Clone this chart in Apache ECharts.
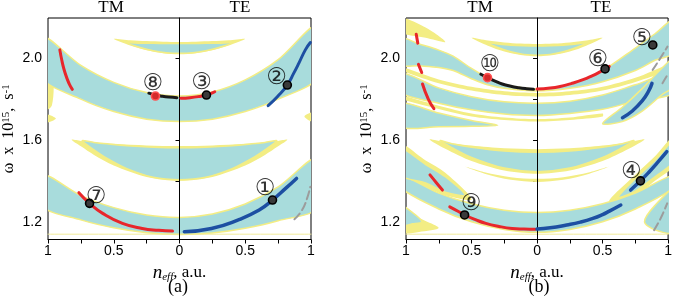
<!DOCTYPE html>
<html><head><meta charset="utf-8">
<script src="https://cdn.jsdelivr.net/npm/echarts@6/dist/echarts.min.js"></script>
<style>html,body{margin:0;padding:0;background:#fff}#c{width:675px;height:300px}</style>
</head><body><div id="c"></div>
<script>
// ---------- axis values ----------
const xTicks = [-1, -0.75, -0.5, -0.25, 0, 0.25, 0.5, 0.75, 1];
const xLabels = [-1, -0.5, 0, 0.5, 1];
const yTicks = [1.2, 1.4, 1.6, 1.8, 2.0];
const yLabels = [1.2, 1.6, 2.0];
const yMin = 1.113, yMax = 2.197;

// ---------- bands: rows of [n_eff, omega_low, omega_high] ----------
// panel (a)
const a1 = [[-1.05,1.906,2.109],[-0.75,1.80,1.965],[-0.5,1.739,1.882],[-0.25,1.702,1.832],[0,1.69,1.815],[0.25,1.702,1.835],[0.5,1.739,1.894],[0.75,1.80,1.993],[1.05,1.906,2.163]];
const a2y = [[-0.5,2.095,2.095],[-0.375,2.062,2.088],[-0.25,2.039,2.084],[-0.125,2.025,2.081],[0,2.02,2.08],[0.125,2.025,2.081],[0.25,2.039,2.084],[0.375,2.062,2.088],[0.5,2.095,2.095]];
const a2 = [[-0.4,2.075,2.075],[-0.3,2.053,2.074],[-0.2,2.037,2.073],[-0.1,2.027,2.072],[0,2.024,2.072],[0.1,2.027,2.072],[0.2,2.037,2.073],[0.3,2.053,2.074],[0.4,2.075,2.075]];
const a3y = [[-0.82,1.601,1.601],[-0.75,1.569,1.595],[-0.65,1.527,1.589],[-0.5,1.475,1.581],[-0.25,1.419,1.573],[0,1.40,1.57],[0.25,1.419,1.573],[0.5,1.475,1.581],[0.65,1.527,1.589],[0.75,1.569,1.595],[0.82,1.601,1.601]];
const a3 = [[-0.74,1.596,1.596],[-0.65,1.552,1.588],[-0.55,1.51,1.581],[-0.4,1.46,1.572],[-0.2,1.418,1.565],[0,1.406,1.5625],[0.2,1.418,1.565],[0.4,1.46,1.572],[0.55,1.51,1.581],[0.65,1.552,1.588],[0.74,1.596,1.596]];
const a4 = [[-1.05,1.278,1.432],[-0.75,1.209,1.328],[-0.5,1.17,1.269],[-0.25,1.146,1.233],[0,1.138,1.221],[0.25,1.145,1.238],[0.5,1.168,1.287],[0.75,1.205,1.37],[1.05,1.269,1.513]];
const aY1 = [[-1.05,1.74,1.98],[-0.97,1.77,1.95]];
const aY2 = [[-1.05,1.68,1.73],[-0.94,1.705,1.705]];
const aY3 = [[0.95,1.715,1.715],[1.05,1.68,1.74]];
// panel (b)
const b1y = [[-0.5,2.10,2.10],[-0.375,2.061,2.087],[-0.25,2.0325,2.0775],[-0.125,2.016,2.072],[0,2.01,2.07],[0.125,2.016,2.072],[0.25,2.0325,2.0775],[0.375,2.061,2.087],[0.5,2.10,2.10]];
const b1 = [[-0.38,2.076,2.076],[-0.3,2.053,2.07],[-0.2,2.032,2.064],[-0.1,2.019,2.061],[0,2.015,2.06],[0.1,2.019,2.061],[0.2,2.032,2.064],[0.3,2.053,2.07],[0.38,2.076,2.076]];
const b2 = [[-1.05,1.97,2.10],[-0.9,1.963,2.07],[-0.75,1.955,2.04],[-0.64,1.94,2.01],[-0.5,1.90,1.95],[-0.378,1.87,1.905],[-0.25,1.853,1.872],[0,1.84,1.85],[0.25,1.853,1.872],[0.5,1.885,1.94],[0.75,1.94,2.05],[0.9,1.99,2.12],[1.05,2.03,2.19]];
const b3 = [[-1.05,1.835,1.93],[-0.75,1.78,1.855],[-0.5,1.7475,1.812],[-0.25,1.727,1.787],[0,1.72,1.78],[0.25,1.73,1.79],[0.5,1.75,1.82],[0.75,1.79,1.87],[1.05,1.83,1.93]];
const b4L = [[-1.05,1.665,1.78],[-0.75,1.665,1.732],[-0.5,1.667,1.695],[-0.3,1.672,1.672]];
const b4R = [[0.5,1.68,1.68],[0.65,1.69,1.76],[0.8,1.74,1.85],[0.95,1.82,1.95],[1.05,1.87,2.0]];
const b5y = [[-0.82,1.603,1.603],[-0.7,1.5575,1.589],[-0.5,1.4975,1.5725],[-0.25,1.451,1.559],[0,1.435,1.555],[0.25,1.451,1.559],[0.5,1.4975,1.5725],[0.7,1.5575,1.589],[0.82,1.603,1.603]];
const b5 = [[-0.74,1.597,1.597],[-0.65,1.563,1.582],[-0.5,1.515,1.565],[-0.25,1.4625,1.546],[0,1.445,1.54],[0.25,1.4625,1.546],[0.5,1.515,1.565],[0.65,1.563,1.582],[0.74,1.597,1.597]];
const b5b = [[-0.55,1.47,1.47],[-0.4,1.435,1.442],[-0.2,1.405,1.418],[0,1.395,1.41],[0.2,1.405,1.418],[0.4,1.435,1.442],[0.55,1.47,1.47]];
const b6 = [[-1.05,1.37,1.43],[-0.75,1.2625,1.34],[-0.5,1.20,1.2875],[-0.25,1.1625,1.256],[0,1.148,1.245],[0.25,1.1625,1.256],[0.5,1.20,1.2875],[0.75,1.2625,1.34],[1.05,1.37,1.43]];
const b7L = [[-1.05,1.43,1.56],[-0.85,1.39,1.48],[-0.7,1.345,1.42],[-0.55,1.33,1.33]];
const b7R = [[0.62,1.32,1.32],[0.75,1.35,1.41],[0.9,1.42,1.5],[1.05,1.5,1.6]];
const b8L = [[-1.05,1.18,1.28],[-0.95,1.19,1.245],[-0.88,1.2,1.2]];
const b8R = [[0.82,1.2,1.2],[0.9,1.16,1.28],[1.05,1.15,1.36]];
const bY1 = [[-1.05,2.13,2.2],[-0.85,2.10,2.15],[-0.7,2.08,2.08]];
const bY2 = [[-1.05,1.945,1.96],[-0.75,1.878,1.896],[-0.5,1.842,1.86],[-0.25,1.82,1.838],[0,1.812,1.83],[0.25,1.82,1.838],[0.5,1.842,1.86],[0.75,1.884,1.904],[1.05,1.955,1.98]];
const bY3 = [[-1.05,1.803,1.82],[-0.75,1.752,1.768],[-0.5,1.715,1.73],[-0.25,1.698,1.71],[0,1.69,1.702],[0.25,1.698,1.71],[0.5,1.715,1.73]];
const b7Ly = [[-1.05,1.41,1.58],[-0.85,1.37,1.50],[-0.7,1.33,1.44],[-0.5,1.31,1.31]];
const b7Ry = [[0.55,1.3,1.3],[0.75,1.33,1.43],[0.9,1.40,1.52],[1.05,1.48,1.62]];
const b8Ly = [[-1.05,1.15,1.29],[-0.9,1.15,1.22],[-0.75,1.17,1.17]];

// ---------- dispersion curves [n_eff, omega] ----------
const redA1 = [[-0.91,2.041],[-0.895,1.99],[-0.878,1.945],[-0.855,1.9],[-0.835,1.87],[-0.815,1.848]];
const blackA = [[-0.233,1.829],[-0.183,1.82],[-0.13,1.814],[-0.08,1.81],[-0.02,1.807]];
const redA2 = [[0.01,1.804],[0.08,1.807],[0.15,1.813],[0.205,1.82],[0.24,1.828],[0.268,1.836]];
const blueA1 = [[0.674,1.768],[0.744,1.812],[0.82,1.869],[0.869,1.927],[0.907,1.975],[0.957,2.041],[0.995,2.077]];
const redA3 = [[-0.765,1.342],[-0.684,1.29],[-0.584,1.241],[-0.434,1.192],[-0.283,1.167],[-0.158,1.158],[-0.053,1.154]];
const blueA2 = [[0.037,1.151],[0.243,1.167],[0.443,1.208],[0.606,1.257],[0.707,1.306],[0.807,1.363],[0.89,1.412]];
const greyA = [[0.874,1.212],[0.932,1.257],[0.97,1.314],[0.995,1.371]];
const redB1a = [[-0.922,2.118],[-0.91,2.074]];
const redB1b = [[-0.905,1.97],[-0.88,1.93]];
const redB1c = [[-0.874,1.874],[-0.83,1.80],[-0.787,1.753]];
const blackB = [[-0.429,1.922],[-0.378,1.905],[-0.32,1.888],[-0.266,1.874],[-0.2,1.863],[-0.14,1.856],[-0.08,1.851],[-0.027,1.848]];
const redB2 = [[0.0,1.849],[0.1,1.854],[0.176,1.862],[0.26,1.876],[0.351,1.895],[0.42,1.914],[0.476,1.932],[0.519,1.948],[0.551,1.96]];
const blueB1 = [[0.652,1.709],[0.727,1.742],[0.802,1.791],[0.852,1.84],[0.877,1.877]];
const greyB1 = [[0.882,1.943],[0.93,1.99],[0.995,2.057]];
const greyB2 = [[0.957,1.878],[0.995,1.918]];
const redB3 = [[-0.817,1.429],[-0.77,1.392],[-0.722,1.355]];
const redB4 = [[-0.666,1.273],[-0.6,1.25],[-0.553,1.233],[-0.47,1.21],[-0.391,1.192],[-0.29,1.177],[-0.19,1.167],[-0.1,1.164],[-0.015,1.163]];
const blueB2 = [[0.0,1.164],[0.1,1.17],[0.226,1.184],[0.33,1.198],[0.426,1.216],[0.5,1.235],[0.552,1.252],[0.639,1.282]];
const blueB3 = [[0.714,1.355],[0.789,1.4],[0.85,1.44],[0.92,1.49],[0.99,1.543]];
const greyB3 = [[0.893,1.159],[0.93,1.2],[0.96,1.24],[0.993,1.29]];
const baseLine = [[-1,1.139],[1,1.139]];

// ---------- marked modes ----------
const markA = [[0.707,1.306],[0.82,1.869],[0.205,1.82],[-0.684,1.29]];
const markRedA = [[-0.183,1.815]];
const tagA = [[0.651,1.362,'①'],[0.739,1.903,'②'],[0.168,1.878,'③'],[-0.634,1.323,'⑦'],[-0.203,1.873,'⑧']];
const markB = [[0.789,1.4],[0.883,2.065],[0.519,1.948],[-0.553,1.233]];
const markRedB = [[-0.378,1.905]];
const tagB = [[0.72,1.441,'④'],[0.8,2.094,'⑤'],[0.464,1.99,'⑥'],[-0.504,1.286,'⑨'],[-0.36,1.966,'⑩']];

// ---------- styles ----------
const CYAN = '#a8dcdc', YEL = '#f3ed84', RED = '#e8262b', BLUE = '#1d4fa2', BLK = '#1a1a1a', GREY = '#9c9c9c';
const SERIF = '"Liberation Serif", "DejaVu Serif", serif';
const SANS = '"Liberation Sans", Arial, sans-serif';

function shapeSeries(gi, list, fill, stroke, lw, z) {
  return {
    type: 'custom', xAxisIndex: gi, yAxisIndex: gi, clip: true, silent: true, z: z,
    data: list.map(() => [0, 1.5]),
    renderItem: function (params, api) {
      const s = list[params.dataIndex];
      const pts = s.map(r => api.coord([r[0], r[2]]));
      for (let i = s.length - 1; i >= 0; i--) {
        if (s[i][1] !== s[i][2]) pts.push(api.coord([s[i][0], s[i][1]]));
      }
      return { type: 'polygon', shape: { points: pts, smooth: 0.3 },
        style: { fill: fill, stroke: stroke || null, lineWidth: lw || 0 } };
    }
  };
}
function lineS(gi, data, color, width, type, z) {
  return { type: 'line', xAxisIndex: gi, yAxisIndex: gi, data: data, symbol: 'none', showSymbol: false,
    smooth: true, silent: true, z: z || 5, clip: true,
    lineStyle: { color: color, width: width, type: type || 'solid', cap: 'round' } };
}
function markS(gi, data, fill, border) {
  return { type: 'scatter', xAxisIndex: gi, yAxisIndex: gi, data: data, symbolSize: 8, silent: true, z: 6,
    itemStyle: { color: fill, borderColor: border, borderWidth: 1.6, opacity: 1 } };
}
function tagS(gi, data) {
  return { type: 'scatter', xAxisIndex: gi, yAxisIndex: gi, data: data, symbolSize: 1, silent: true, z: 7,
    itemStyle: { color: 'rgba(0,0,0,0)' },
    label: { show: true, position: 'inside', formatter: p => p.data[2], color: '#000',
      fontSize: 23, fontFamily: '"DejaVu Sans", "Noto Sans CJK JP", sans-serif' } };
}
function xAx(gi) {
  return { type: 'value', gridIndex: gi, min: -1, max: 1,
    axisLine: { show: true, onZero: false, lineStyle: { color: '#000', width: 1 } },
    axisTick: { show: true, length: 4, customValues: xTicks, lineStyle: { color: '#000', width: 1 } },
    axisLabel: { customValues: xLabels, formatter: v => String(Math.abs(Math.round(v * 100) / 100)),
      color: '#000', fontFamily: SANS, fontSize: 14, margin: 5 },
    splitLine: { show: false },
    name: '{i|n}{s|eff}{t|, a.u.}', nameLocation: 'middle', nameGap: 16,
    nameTextStyle: { color: '#000', rich: {
      i: { fontFamily: SERIF, fontStyle: 'italic', fontSize: 19, color: '#000' },
      s: { fontFamily: SERIF, fontStyle: 'italic', fontSize: 11, color: '#000', verticalAlign: 'bottom' },
      t: { fontFamily: SERIF, fontSize: 17, color: '#000' } } } };
}
function yAx(gi) {
  return { type: 'value', gridIndex: gi, min: yMin, max: yMax,
    axisLine: { show: true, lineStyle: { color: '#000', width: 1 } },
    axisTick: { show: true, length: 4, customValues: yTicks, lineStyle: { color: '#000', width: 1 } },
    axisLabel: { customValues: yLabels, formatter: v => v.toFixed(1), color: '#000', fontFamily: SANS, fontSize: 14, margin: 6 },
    splitLine: { show: false },
    name: 'ω  x  10{sup|15},  s{sup|-1}', nameLocation: 'middle', nameGap: 31, nameRotate: 90,
    nameTextStyle: { fontFamily: SERIF, fontSize: 16, color: '#000',
      rich: { sup: { fontFamily: SERIF, fontSize: 11, color: '#000', verticalAlign: 'top' } } } };
}

const series = [];
// panel (a)
series.push(shapeSeries(0, [a2y, a3y, aY1, aY2, aY3], YEL, null, 0, 1));
series.push(shapeSeries(0, [a1, a2, a3, a4], CYAN, YEL, 1.5, 2));
series.push(lineS(0, baseLine, '#f1eb9a', 1, 'solid', 2));
const centerA = lineS(0, redA1, RED, 3);
centerA.markLine = { symbol: 'none', silent: true, label: { show: false },
  lineStyle: { color: '#000', width: 1, type: 'solid' }, data: [{ xAxis: 0 }] };
series.push(centerA);
series.push(lineS(0, blackA, BLK, 3));
series.push(lineS(0, redA2, RED, 3));
series.push(lineS(0, blueA1, BLUE, 3));
series.push(lineS(0, redA3, RED, 3));
series.push(lineS(0, blueA2, BLUE, 3.5));
series.push(lineS(0, greyA, GREY, 2, [8, 4]));
series.push(markS(0, markA, '#3a3a3a', '#000'));
series.push(markS(0, markRedA, '#d42a2a', '#ff5050'));
series.push(tagS(0, tagA));
// panel (b)
series.push(shapeSeries(1, [b1y, b5y, b5b, bY1, bY2, bY3, b7Ly, b7Ry, b8Ly], YEL, null, 0, 1));
series.push(shapeSeries(1, [b1, b2, b3, b4L, b4R, b5, b6, b7L, b7R, b8L, b8R], CYAN, YEL, 1.5, 2));
series.push(lineS(1, baseLine, '#f1eb9a', 1, 'solid', 2));
const centerB = lineS(1, redB1a, RED, 3);
centerB.markLine = { symbol: 'none', silent: true, label: { show: false },
  lineStyle: { color: '#000', width: 1, type: 'solid' }, data: [{ xAxis: 0 }] };
series.push(centerB);
series.push(lineS(1, redB1b, RED, 3));
series.push(lineS(1, redB1c, RED, 3));
series.push(lineS(1, blackB, BLK, 3));
series.push(lineS(1, redB2, RED, 3));
series.push(lineS(1, blueB1, BLUE, 3.5));
series.push(lineS(1, greyB1, GREY, 2, [8, 4]));
series.push(lineS(1, greyB2, GREY, 2, [8, 4]));
series.push(lineS(1, redB3, RED, 3));
series.push(lineS(1, redB4, RED, 3));
series.push(lineS(1, blueB2, BLUE, 3.5));
series.push(lineS(1, blueB3, BLUE, 3.5));
series.push(lineS(1, greyB3, GREY, 2, [8, 4]));
series.push(markS(1, markB, '#3a3a3a', '#000'));
series.push(markS(1, markRedB, '#d42a2a', '#ff5050'));
series.push(tagS(1, tagB));

const txt = (t, x, y, size) => ({ type: 'text', x: x, y: y, silent: true,
  style: { text: t, fill: '#000', font: size + 'px ' + SERIF, textAlign: 'center', textVerticalAlign: 'middle' } });

const chart = echarts.init(document.getElementById('c'), null, { renderer: 'canvas' });
chart.setOption({
  animation: false,
  backgroundColor: '#fff',
  grid: [
    { left: 45, top: 18, width: 266, height: 221.5, show: true, borderColor: '#000', borderWidth: 1, backgroundColor: 'transparent', containLabel: false },
    { left: 406, top: 18, width: 266, height: 221.5, show: true, borderColor: '#000', borderWidth: 1, backgroundColor: 'transparent', containLabel: false }
  ],
  xAxis: [xAx(0), xAx(1)],
  yAxis: [yAx(0), yAx(1)],
  series: series,
  graphic: [
    txt('TM', 111, 8, 17), txt('TE', 240, 8, 17),
    txt('TM', 480, 8, 17), txt('TE', 601, 8, 17),
    txt('(a)', 178, 287, 18), txt('(b)', 539, 287, 18)
  ]
});
</script></body></html>
